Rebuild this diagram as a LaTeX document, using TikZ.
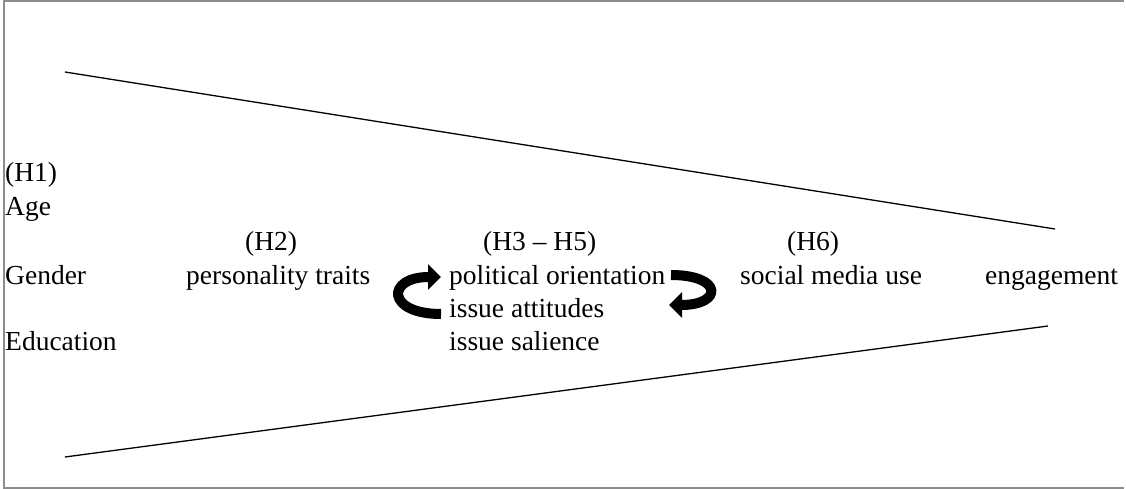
\documentclass[tikz,border=0pt]{standalone}
\usepackage{fontspec}
\setmainfont{Liberation Serif}
\usepackage{tikz}
\usetikzlibrary{arrows.meta,positioning}

\tikzset{
  txt/.style={anchor=base west,inner sep=0pt,font=\fontsize{27.5}{33}\selectfont},
  curvearrow/.style={line width=10pt,-{Triangle[length=13pt,width=25pt]}},
  frame/.style={draw=black!45,line width=2pt},
  funnel/.style={line width=1.3pt}
}

\begin{document}
\begin{tikzpicture}[x=1pt,y=-1pt]
      \useasboundingbox (0,0) rectangle (1126,489);
      \draw[frame] (1124,1.5) -- (4,1.5) -- (4,487.5) -- (1124,487.5);
      % left column
      \node[txt](h1) at (5,182){(H1)};
      \node[txt](age) at (5,215){Age};
      \node[txt](gender) at (5,284){Gender};
      \node[txt](educ) at (5,350){Education};
      % middle
      \node[txt](h2) at (245,250){(H2)};
      \node[txt](traits) at (186,284){personality traits};
      \node[txt](h35) at (483,250){(H3 -- H5)};
      \node[txt](orient) at (449,284){political orientation};
      \node[txt](attitudes) at (449,317){issue attitudes};
      \node[txt](salience) at (449,350){issue salience};
      \node[txt](h6) at (787,250){(H6)};
      \node[txt](smuse) at (740,284){social media use};
      \node[txt](engage) at (985,284){engagement};
      % funnel
      \coordinate (ftl) at (65,72);
      \coordinate (ftr) at (1055,229);
      \coordinate (fbl) at (65,457);
      \coordinate (fbr) at (1048,326);
      \draw[funnel] (ftl) -- (ftr);
      \draw[funnel] (fbl) -- (fbr);
      % curved arrows
      \coordinate (la) at (441,314);
      \coordinate (lb) at (441,277);
      \coordinate (ra) at (671,275);
      \coordinate (rb) at (669,305);
      \draw[curvearrow] (la) .. controls (386,314) and (386,277) .. (lb);
      \draw[curvearrow] (ra) .. controls (723,275) and (723,305) .. (rb);
    \end{tikzpicture}
\end{document}
